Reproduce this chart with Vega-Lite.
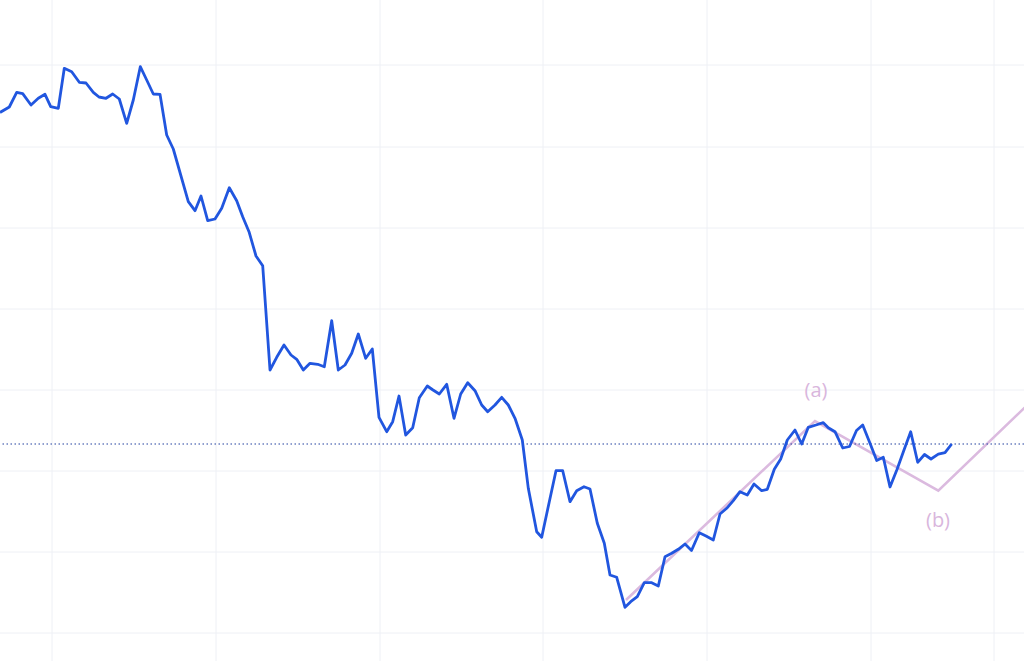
{
  "$schema": "https://vega.github.io/schema/vega-lite/v6.json",
  "autosize": {"type": "fit", "contains": "padding"},
  "width": 1024,
  "height": 661,
  "padding": 0,
  "background": "white",
  "config": {
    "view": {"stroke": null}
  },
  "datasets": {
    "price": [
      {"t": 0.00, "p": 58.75}, {"t": 0.93, "p": 59.30}, {"t": 1.67, "p": 60.77}, {"t": 2.27, "p": 60.63},
      {"t": 3.10, "p": 59.50}, {"t": 3.83, "p": 60.17}, {"t": 4.50, "p": 60.57}, {"t": 5.07, "p": 59.33},
      {"t": 5.83, "p": 59.17}, {"t": 6.43, "p": 63.17}, {"t": 7.17, "p": 62.83}, {"t": 7.93, "p": 61.77},
      {"t": 8.60, "p": 61.70}, {"t": 9.33, "p": 60.77}, {"t": 9.90, "p": 60.30}, {"t": 10.60, "p": 60.17},
      {"t": 11.27, "p": 60.60}, {"t": 11.93, "p": 60.10}, {"t": 12.67, "p": 57.67}, {"t": 13.33, "p": 60.00},
      {"t": 14.03, "p": 63.33}, {"t": 14.67, "p": 62.00}, {"t": 15.33, "p": 60.60}, {"t": 16.00, "p": 60.57},
      {"t": 16.67, "p": 56.50}, {"t": 17.33, "p": 55.10}, {"t": 18.83, "p": 49.83}, {"t": 19.50, "p": 48.93},
      {"t": 20.10, "p": 50.40}, {"t": 20.77, "p": 47.93}, {"t": 21.50, "p": 48.10}, {"t": 22.17, "p": 49.17},
      {"t": 22.93, "p": 51.23}, {"t": 23.67, "p": 49.93}, {"t": 24.27, "p": 48.33}, {"t": 24.90, "p": 46.83},
      {"t": 25.60, "p": 44.40}, {"t": 26.27, "p": 43.43}, {"t": 27.00, "p": 33.00}, {"t": 27.67, "p": 34.27},
      {"t": 28.40, "p": 35.50}, {"t": 29.10, "p": 34.50}, {"t": 29.67, "p": 34.07}, {"t": 30.33, "p": 33.00},
      {"t": 31.00, "p": 33.67}, {"t": 31.77, "p": 33.57}, {"t": 32.43, "p": 33.33}, {"t": 33.17, "p": 37.93},
      {"t": 33.83, "p": 33.00}, {"t": 34.50, "p": 33.50}, {"t": 35.17, "p": 34.67}, {"t": 35.83, "p": 36.60},
      {"t": 36.57, "p": 34.17}, {"t": 37.23, "p": 35.10}, {"t": 37.90, "p": 28.27}, {"t": 38.67, "p": 26.83},
      {"t": 39.27, "p": 27.83}, {"t": 39.90, "p": 30.40}, {"t": 40.57, "p": 26.50}, {"t": 41.27, "p": 27.23},
      {"t": 41.93, "p": 30.23}, {"t": 42.73, "p": 31.40}, {"t": 43.30, "p": 31.00}, {"t": 43.93, "p": 30.60},
      {"t": 44.67, "p": 31.57}, {"t": 45.40, "p": 28.17}, {"t": 46.07, "p": 30.60}, {"t": 46.77, "p": 31.73},
      {"t": 47.50, "p": 30.93}, {"t": 48.17, "p": 29.50}, {"t": 48.77, "p": 28.83}, {"t": 49.50, "p": 29.50},
      {"t": 50.17, "p": 30.27}, {"t": 50.83, "p": 29.50}, {"t": 51.50, "p": 28.17}, {"t": 52.23, "p": 26.00},
      {"t": 52.83, "p": 21.17}, {"t": 53.67, "p": 16.83}, {"t": 54.17, "p": 16.27}, {"t": 54.93, "p": 19.83},
      {"t": 55.60, "p": 22.93}, {"t": 56.27, "p": 22.93}, {"t": 57.00, "p": 19.83}, {"t": 57.67, "p": 20.93},
      {"t": 58.40, "p": 21.33}, {"t": 59.00, "p": 21.10}, {"t": 59.73, "p": 17.67}, {"t": 60.43, "p": 15.67},
      {"t": 61.00, "p": 12.50}, {"t": 61.67, "p": 12.27}, {"t": 62.50, "p": 9.27}, {"t": 63.07, "p": 9.83},
      {"t": 63.73, "p": 10.33}, {"t": 64.43, "p": 11.73}, {"t": 65.17, "p": 11.73}, {"t": 65.83, "p": 11.40},
      {"t": 66.50, "p": 14.33}, {"t": 67.17, "p": 14.67}, {"t": 67.83, "p": 15.07}, {"t": 68.50, "p": 15.60},
      {"t": 69.15, "p": 14.95}, {"t": 69.93, "p": 16.73}, {"t": 70.60, "p": 16.40}, {"t": 71.33, "p": 16.00},
      {"t": 72.00, "p": 18.60}, {"t": 72.67, "p": 19.17}, {"t": 73.33, "p": 19.93}, {"t": 74.00, "p": 20.83},
      {"t": 74.73, "p": 20.50}, {"t": 75.40, "p": 21.60}, {"t": 76.17, "p": 20.93}, {"t": 76.73, "p": 21.07},
      {"t": 77.43, "p": 23.07}, {"t": 78.07, "p": 24.10}, {"t": 78.73, "p": 26.00}, {"t": 79.50, "p": 27.00},
      {"t": 80.17, "p": 25.60}, {"t": 80.83, "p": 27.27}, {"t": 81.60, "p": 27.50}, {"t": 82.33, "p": 27.73},
      {"t": 82.83, "p": 27.23}, {"t": 83.50, "p": 26.83}, {"t": 84.27, "p": 25.20}, {"t": 84.95, "p": 25.35},
      {"t": 85.65, "p": 26.95}, {"t": 86.27, "p": 27.50}, {"t": 87.00, "p": 25.67}, {"t": 87.67, "p": 23.95},
      {"t": 88.33, "p": 24.27}, {"t": 89.00, "p": 21.30}, {"t": 89.70, "p": 23.05}, {"t": 90.40, "p": 25.00},
      {"t": 91.07, "p": 26.83}, {"t": 91.77, "p": 23.77}, {"t": 92.45, "p": 24.55}, {"t": 93.10, "p": 24.10},
      {"t": 93.83, "p": 24.58}, {"t": 94.50, "p": 24.73}, {"t": 95.17, "p": 25.60}
    ],
    "wave": [
      {"t": 62.6, "p": 10.0},
      {"t": 81.5, "p": 27.9},
      {"t": 93.83, "p": 20.93},
      {"t": 104.0, "p": 30.71}
    ],
    "labels": [
      {"t": 81.6, "p": 30.9, "label": "(a)"},
      {"t": 93.8, "p": 17.9, "label": "(b)"}
    ],
    "last": [
      {"p": 25.6}
    ],
    "gridX": [
      {"t": 5.2}, {"t": 21.6}, {"t": 38.0}, {"t": 54.3}, {"t": 70.7}, {"t": 87.1}, {"t": 99.4}
    ],
    "gridY": [
      {"p": 6.7}, {"p": 14.8}, {"p": 22.9}, {"p": 31.0}, {"p": 39.1}, {"p": 47.2}, {"p": 55.3}, {"p": 63.5}
    ]
  },
  "layer": [
    {
      "data": {"name": "gridX"},
      "mark": {"type": "rule", "color": "#eef0f5", "strokeWidth": 1, "clip": true},
      "encoding": {
        "x": {"field": "t", "type": "quantitative", "scale": {"domain": [0, 102.4], "nice": false, "zero": false}, "axis": null}
      }
    },
    {
      "data": {"name": "gridY"},
      "mark": {"type": "rule", "color": "#eef0f5", "strokeWidth": 1, "clip": true},
      "encoding": {
        "y": {"field": "p", "type": "quantitative", "scale": {"domain": [3.9, 70], "nice": false, "zero": false}, "axis": null}
      }
    },
    {
      "data": {"name": "wave"},
      "mark": {"type": "line", "color": "#dbbadf", "strokeWidth": 2.6, "clip": true},
      "encoding": {
        "x": {"field": "t", "type": "quantitative", "scale": {"domain": [0, 102.4], "nice": false, "zero": false}, "axis": null},
        "y": {"field": "p", "type": "quantitative", "scale": {"domain": [3.9, 70], "nice": false, "zero": false}, "axis": null}
      }
    },
    {
      "data": {"name": "last"},
      "mark": {"type": "rule", "color": "#22409f", "strokeWidth": 1.2, "strokeDash": [1.5, 2.5], "clip": true},
      "encoding": {
        "y": {"field": "p", "type": "quantitative", "scale": {"domain": [3.9, 70], "nice": false, "zero": false}, "axis": null}
      }
    },
    {
      "data": {"name": "price"},
      "mark": {"type": "line", "color": "#2156df", "strokeWidth": 2.8, "strokeJoin": "round", "clip": true},
      "encoding": {
        "x": {"field": "t", "type": "quantitative", "scale": {"domain": [0, 102.4], "nice": false, "zero": false}, "axis": null},
        "y": {"field": "p", "type": "quantitative", "scale": {"domain": [3.9, 70], "nice": false, "zero": false}, "axis": null}
      }
    },
    {
      "data": {"name": "labels"},
      "mark": {"type": "text", "color": "#d9b6dd", "fontSize": 20, "font": "Open Sans", "baseline": "middle", "align": "center"},
      "encoding": {
        "x": {"field": "t", "type": "quantitative", "scale": {"domain": [0, 102.4], "nice": false, "zero": false}, "axis": null},
        "y": {"field": "p", "type": "quantitative", "scale": {"domain": [3.9, 70], "nice": false, "zero": false}, "axis": null},
        "text": {"field": "label", "type": "nominal"}
      }
    }
  ]
}
